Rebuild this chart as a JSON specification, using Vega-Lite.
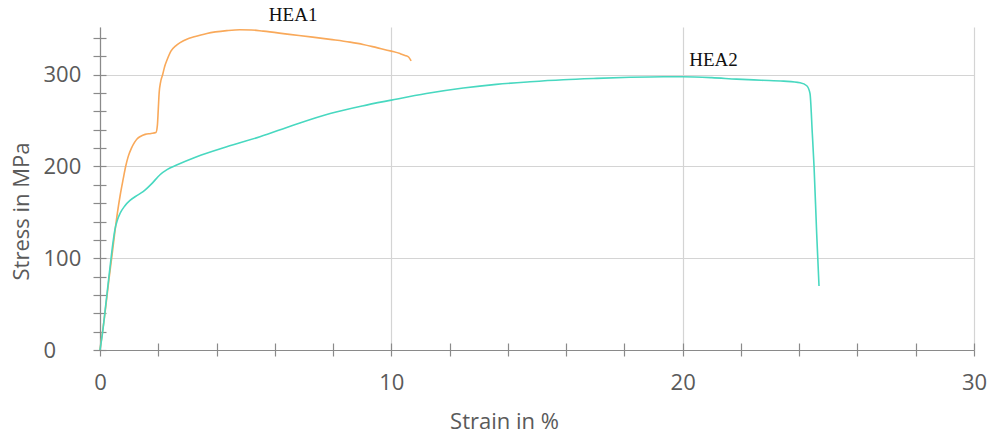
{
  "$schema": "https://vega.github.io/schema/vega-lite/v6.json",
  "autosize": "none",
  "width": 874,
  "height": 323,
  "padding": {"left": 100, "top": 27, "right": 17, "bottom": 84},
  "background": "white",
  "config": {"view": {"stroke": null}},
  "datasets": {
    "curves": [
      {"series": "HEA1", "strain": 0, "stress": 0},
      {"series": "HEA1", "strain": 0.17, "stress": 40},
      {"series": "HEA1", "strain": 0.3, "stress": 75},
      {"series": "HEA1", "strain": 0.4, "stress": 100},
      {"series": "HEA1", "strain": 0.5, "stress": 126},
      {"series": "HEA1", "strain": 0.6, "stress": 150},
      {"series": "HEA1", "strain": 0.7, "stress": 170},
      {"series": "HEA1", "strain": 0.8, "stress": 187},
      {"series": "HEA1", "strain": 0.88, "stress": 200},
      {"series": "HEA1", "strain": 0.97, "stress": 211},
      {"series": "HEA1", "strain": 1.08, "stress": 220},
      {"series": "HEA1", "strain": 1.18, "stress": 226},
      {"series": "HEA1", "strain": 1.27, "stress": 230},
      {"series": "HEA1", "strain": 1.4, "stress": 233},
      {"series": "HEA1", "strain": 1.55, "stress": 235},
      {"series": "HEA1", "strain": 1.75, "stress": 236},
      {"series": "HEA1", "strain": 1.92, "stress": 237},
      {"series": "HEA1", "strain": 1.97, "stress": 245},
      {"series": "HEA1", "strain": 2.0, "stress": 262},
      {"series": "HEA1", "strain": 2.03, "stress": 280},
      {"series": "HEA1", "strain": 2.08, "stress": 292},
      {"series": "HEA1", "strain": 2.15, "stress": 300},
      {"series": "HEA1", "strain": 2.22, "stress": 309},
      {"series": "HEA1", "strain": 2.3, "stress": 316},
      {"series": "HEA1", "strain": 2.44, "stress": 326},
      {"series": "HEA1", "strain": 2.6, "stress": 331.5},
      {"series": "HEA1", "strain": 2.75, "stress": 335},
      {"series": "HEA1", "strain": 3.0, "stress": 339},
      {"series": "HEA1", "strain": 3.2, "stress": 341},
      {"series": "HEA1", "strain": 3.67, "stress": 345},
      {"series": "HEA1", "strain": 4.35, "stress": 348},
      {"series": "HEA1", "strain": 4.8, "stress": 349},
      {"series": "HEA1", "strain": 5.2, "stress": 348.8},
      {"series": "HEA1", "strain": 5.6, "stress": 347.5},
      {"series": "HEA1", "strain": 6.5, "stress": 344},
      {"series": "HEA1", "strain": 7.3, "stress": 341},
      {"series": "HEA1", "strain": 7.9, "stress": 338.5},
      {"series": "HEA1", "strain": 8.58, "stress": 335.5},
      {"series": "HEA1", "strain": 9.03, "stress": 333},
      {"series": "HEA1", "strain": 9.5, "stress": 329.5},
      {"series": "HEA1", "strain": 10.0, "stress": 325.7},
      {"series": "HEA1", "strain": 10.3, "stress": 323},
      {"series": "HEA1", "strain": 10.47, "stress": 321},
      {"series": "HEA1", "strain": 10.6, "stress": 319},
      {"series": "HEA1", "strain": 10.68, "stress": 315},
      {"series": "HEA2", "strain": 0, "stress": 0},
      {"series": "HEA2", "strain": 0.1, "stress": 22},
      {"series": "HEA2", "strain": 0.2, "stress": 50},
      {"series": "HEA2", "strain": 0.3, "stress": 78},
      {"series": "HEA2", "strain": 0.38, "stress": 100},
      {"series": "HEA2", "strain": 0.45, "stress": 118},
      {"series": "HEA2", "strain": 0.51, "stress": 131},
      {"series": "HEA2", "strain": 0.6, "stress": 142},
      {"series": "HEA2", "strain": 0.69, "stress": 149},
      {"series": "HEA2", "strain": 0.85, "stress": 157},
      {"series": "HEA2", "strain": 1.03, "stress": 163},
      {"series": "HEA2", "strain": 1.25, "stress": 168},
      {"series": "HEA2", "strain": 1.48, "stress": 172.5},
      {"series": "HEA2", "strain": 1.77, "stress": 181},
      {"series": "HEA2", "strain": 2.06, "stress": 191},
      {"series": "HEA2", "strain": 2.3, "stress": 196.5},
      {"series": "HEA2", "strain": 2.63, "stress": 201.5},
      {"series": "HEA2", "strain": 3.32, "stress": 210.6},
      {"series": "HEA2", "strain": 4.35, "stress": 221.5},
      {"series": "HEA2", "strain": 5.49, "stress": 232.4},
      {"series": "HEA2", "strain": 6.63, "stress": 245},
      {"series": "HEA2", "strain": 7.9, "stress": 257.8},
      {"series": "HEA2", "strain": 9.0, "stress": 266},
      {"series": "HEA2", "strain": 10.0, "stress": 272.3},
      {"series": "HEA2", "strain": 11.2, "stress": 279.5},
      {"series": "HEA2", "strain": 12.47, "stress": 285.5},
      {"series": "HEA2", "strain": 13.6, "stress": 289.5},
      {"series": "HEA2", "strain": 14.76, "stress": 292.3},
      {"series": "HEA2", "strain": 15.9, "stress": 294.5},
      {"series": "HEA2", "strain": 17.05, "stress": 296},
      {"series": "HEA2", "strain": 18.2, "stress": 297.2},
      {"series": "HEA2", "strain": 19.34, "stress": 297.8},
      {"series": "HEA2", "strain": 20.0, "stress": 297.8},
      {"series": "HEA2", "strain": 21.0, "stress": 296.8},
      {"series": "HEA2", "strain": 21.85, "stress": 295.2},
      {"series": "HEA2", "strain": 22.7, "stress": 294},
      {"series": "HEA2", "strain": 23.46, "stress": 293},
      {"series": "HEA2", "strain": 24.03, "stress": 291.2},
      {"series": "HEA2", "strain": 24.26, "stress": 288},
      {"series": "HEA2", "strain": 24.37, "stress": 279.6},
      {"series": "HEA2", "strain": 24.45, "stress": 236},
      {"series": "HEA2", "strain": 24.51, "stress": 199.7},
      {"series": "HEA2", "strain": 24.6, "stress": 127},
      {"series": "HEA2", "strain": 24.68, "stress": 69.7}
    ],
    "labels": [
      {"label": "HEA1", "strain": 6.63, "stress": 364.9},
      {"label": "HEA2", "strain": 21.06, "stress": 316.4}
    ]
  },
  "layer": [
    {
      "data": {"name": "curves"},
      "mark": {"type": "line", "strokeWidth": 1.6, "interpolate": "monotone"},
      "encoding": {
        "x": {
          "field": "strain", "type": "quantitative",
          "scale": {"domain": [0, 30], "nice": false},
          "axis": {
            "title": "Strain in %",
            "values": [0, 2, 4, 6, 8, 10, 12, 14, 16, 18, 20, 22, 24, 26, 28, 30],
            "labelExpr": "datum.value % 10 === 0 ? datum.label : ''",
            "labelFlush": false,
            "labelAlign": "center",
            "gridOpacity": {"condition": {"test": "datum.value % 10 === 0", "value": 1}, "value": 0},
            "gridColor": "#d4d4d4",
            "gridWidth": 1.2,
            "domainColor": "#8a8a8a",
            "domainWidth": 1.2,
            "tickColor": "#8a8a8a",
            "tickWidth": 1.2,
            "tickSize": 6,
            "labelFont": "Open Sans",
            "labelFontSize": 22,
            "labelColor": "#5a5a5a",
            "labelBaseline": "alphabetic",
            "labelPadding": 33,
            "titleFont": "Open Sans",
            "titleFontSize": 22,
            "titleFontWeight": "normal",
            "titleColor": "#5a5a5a",
            "titleBaseline": "alphabetic",
            "titleX": 404,
            "titleY": 78
          }
        },
        "y": {
          "field": "stress", "type": "quantitative",
          "scale": {"domain": [0, 352], "nice": false},
          "axis": {
            "title": "Stress in MPa",
            "values": [0, 20, 40, 60, 80, 100, 120, 140, 160, 180, 200, 220, 240, 260, 280, 300, 320, 340],
            "labelExpr": "datum.value % 100 === 0 ? datum.label : ''",
            "labelFlush": false,
            "labelBaseline": "middle",
            "gridOpacity": {"condition": {"test": "datum.value % 100 === 0", "value": 1}, "value": 0},
            "gridColor": "#d4d4d4",
            "gridWidth": 1.2,
            "domainColor": "#8a8a8a",
            "domainWidth": 1.2,
            "tickColor": "#8a8a8a",
            "tickWidth": 1.2,
            "tickSize": 7,
            "labelFont": "Open Sans",
            "labelFontSize": 22,
            "labelColor": "#5a5a5a",
            "labelAlign": "left",
            "labelPadding": 50,
            "titleFont": "Open Sans",
            "titleFontSize": 22,
            "titleFontWeight": "normal",
            "titleColor": "#5a5a5a",
            "titleBaseline": "alphabetic",
            "titleX": -72,
            "titleY": 184
          }
        },
        "color": {
          "field": "series", "type": "nominal",
          "scale": {"domain": ["HEA1", "HEA2"], "range": ["#f9a95a", "#48d8c0"]},
          "legend": null
        }
      }
    },
    {
      "data": {"name": "labels"},
      "mark": {"type": "text", "font": "Liberation Serif", "fontSize": 19, "color": "#111111", "align": "center", "baseline": "middle"},
      "encoding": {
        "x": {
          "field": "strain", "type": "quantitative",
          "axis": {
            "orient": "bottom",
            "title": null,
            "values": [0, 2, 4, 6, 8, 10, 12, 14, 16, 18, 20, 22, 24, 26, 28, 30],
            "labels": false,
            "grid": false,
            "domain": false,
            "tickColor": "#8a8a8a",
            "tickWidth": 1.2,
            "tickSize": -7
          }
        },
        "y": {
          "field": "stress", "type": "quantitative",
          "axis": {
            "orient": "left",
            "title": null,
            "values": [0, 20, 40, 60, 80, 100, 120, 140, 160, 180, 200, 220, 240, 260, 280, 300, 320, 340],
            "labels": false,
            "grid": false,
            "domain": false,
            "tickColor": "#8a8a8a",
            "tickWidth": 1.2,
            "tickSize": -6
          }
        },
        "text": {"field": "label", "type": "nominal"}
      }
    }
  ],
  "resolve": {"axis": {"x": "independent", "y": "independent"}}
}
